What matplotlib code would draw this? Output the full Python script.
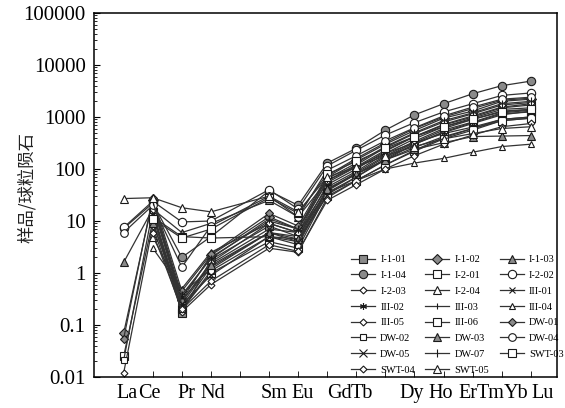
import numpy as np
import matplotlib
matplotlib.use("Agg")
import matplotlib.pyplot as plt
from matplotlib.ticker import FixedLocator, NullFormatter

# ---------------- data ----------------
elements = ["La", "Ce", "Pr", "Nd", "Pm", "Sm", "Eu", "Gd", "Tb", "Dy", "Ho", "Er", "Tm", "Yb", "Lu"]
plot_elements = ["La", "Ce", "Pr", "Nd", "Sm", "Eu", "Gd", "Tb", "Dy", "Ho", "Er", "Tm", "Yb", "Lu"]
label_text = ["La", "Ce", "Pr", "Nd", "Sm", "Eu", "Gd", "Tb", "Dy", "Ho", "Er", "Tm", "Yb", "Lu"]
ytick_vals = [0.01, 0.1, 1, 10, 100, 1000, 10000, 100000]
ytick_labels = ["0.01", "0.1", "1", "10", "100", "1000", "10000", "100000"]
nan = np.nan

# values: La, Ce, Pr, Nd, Sm, Eu, Gd, Tb, Dy, Ho, Er, Tm, Yb, Lu
I_1_01 = [nan, 15, 0.17, 1.8, 8, 5, 50, 100, 220, 420, 700, 1000, 1500, 1700]
I_1_02 = [0.07, 25, 0.30, 2.2, 12, 7, 70, 150, 300, 550, 950, 1300, 2000, 2200]
I_1_03 = [1.6, 17, 6.0, 9, 25, 12, 60, 110, 200, 320, 480, 640, 900, 1000]
I_1_04 = [7.2, 22, 2.0, 5, 38, 20, 130, 250, 560, 1100, 1800, 2800, 4000, 4900]
I_2_01 = [0.025, 10, 0.20, 1.0, 4, 3, 35, 70, 150, 300, 500, 750, 1100, 1300]
I_2_02 = [7.5, 24, 9.6, 10, 40, 17, 115, 230, 450, 780, 1250, 1800, 2600, 2900]
I_2_03 = [0.012, 8, 0.18, 0.6, 3, 2.5, 28, 60, 120, 230, 400, 600, 900, 1000]
I_2_04 = [nan, 5, 0.40, 1.2, 6, 5, 40, 80, 150, 260, 420, 600, 850, 950]
III_01 = [nan, 20, 0.25, 1.5, 7, 6, 45, 90, 200, 380, 650, 950, 1400, 1500]
III_02 = [nan, 18, 0.35, 2.0, 10, 7, 55, 110, 230, 420, 720, 1050, 1550, 1800]
III_03 = [nan, 12, 0.22, 1.3, 6, 4, 40, 85, 180, 340, 600, 900, 1300, 1400]
III_04 = [nan, 3, 0.50, 2.5, 9, 6, 35, 60, 100, 130, 160, 210, 270, 300]
III_05 = [nan, 22, 0.28, 1.6, 9, 6, 60, 120, 260, 480, 800, 1150, 1700, 1900]
III_06 = [nan, 12, 5.0, 4.7, 5, 4.5, 30, 60, 120, 220, 380, 560, 850, 950]
DW_01 = [0.055, 28, 0.45, 2.3, 14, 8, 75, 160, 320, 600, 1000, 1450, 2100, 2300]
DW_02 = [0.021, 16, 0.20, 1.1, 5, 3.5, 38, 80, 170, 320, 560, 800, 1200, 1350]
DW_03 = [nan, 9, 0.30, 1.4, 6, 4.5, 42, 80, 150, 240, 320, 420, 430, 440]
DW_04 = [6.0, 20, 1.3, 8, 30, 12, 95, 180, 350, 620, 1050, 1550, 2200, 2400]
DW_05 = [nan, 14, 0.25, 0.9, 5, 4, 32, 70, 160, 300, 520, 780, 1150, 1250]
DW_07 = [nan, 24, 0.38, 1.9, 11, 7, 65, 130, 270, 500, 850, 1200, 1800, 2000]
SWT_03 = [nan, 11, 4.7, 7, 28, 14, 80, 140, 250, 420, 650, 900, 1250, 1400]
SWT_04 = [nan, 6, 0.20, 0.7, 3.5, 2.6, 25, 50, 100, 180, 300, 450, 650, 750]
SWT_05 = [27, 28, 18, 15, 30, 15, 70, 110, 180, 270, 380, 480, 600, 650]

names = ["I-1-01", "I-1-02", "I-1-03", "I-1-04", "I-2-01", "I-2-02", "I-2-03", "I-2-04",
         "III-01", "III-02", "III-03", "III-04", "III-05", "III-06",
         "DW-01", "DW-02", "DW-03", "DW-04", "DW-05", "DW-07",
         "SWT-03", "SWT-04", "SWT-05"]
series = [I_1_01, I_1_02, I_1_03, I_1_04, I_2_01, I_2_02, I_2_03, I_2_04,
          III_01, III_02, III_03, III_04, III_05, III_06,
          DW_01, DW_02, DW_03, DW_04, DW_05, DW_07,
          SWT_03, SWT_04, SWT_05]

# ---------------- styles ----------------
G = "#8a8a8a"
W = "white"
styles = {
    "I-1-01": dict(marker="s", ms=5.5, mfc=G),
    "I-1-02": dict(marker="D", ms=5, mfc=G),
    "I-1-03": dict(marker="^", ms=6, mfc=G),
    "I-1-04": dict(marker="o", ms=6, mfc=G),
    "I-2-01": dict(marker="s", ms=5.5, mfc=W),
    "I-2-02": dict(marker="o", ms=6, mfc=W),
    "I-2-03": dict(marker="D", ms=3.5, mfc=W),
    "I-2-04": dict(marker="^", ms=5.5, mfc=W),
    "III-01": dict(marker="x", ms=4.5, mfc=W),
    "III-02": dict(marker=(6, 2, 0), ms=5, mfc=W),
    "III-03": dict(marker="|", ms=5, mfc=W),
    "III-04": dict(marker="^", ms=5, mfc=W),
    "III-05": dict(marker="D", ms=3.5, mfc=W),
    "III-06": dict(marker="s", ms=5.5, mfc=W),
    "DW-01": dict(marker="D", ms=4.5, mfc=G),
    "DW-02": dict(marker="s", ms=5, mfc=W),
    "DW-03": dict(marker="^", ms=5.5, mfc=G),
    "DW-04": dict(marker="o", ms=5.5, mfc=W),
    "DW-05": dict(marker="x", ms=5.5, mfc=W),
    "DW-07": dict(marker="|", ms=6, mfc=W),
    "SWT-03": dict(marker="s", ms=5.5, mfc=W),
    "SWT-04": dict(marker="D", ms=3.5, mfc=W),
    "SWT-05": dict(marker="^", ms=6, mfc=W),
}

plt.rcParams["font.family"] = ["Liberation Serif", "DejaVu Serif"]

fig = plt.figure(figsize=(5.65, 4.08), dpi=100)
ax = fig.add_axes([94 / 565, 1 - 377 / 408, (557 - 94) / 565, (377 - 13) / 408])

xpos = [elements.index(e) for e in plot_elements]
handles = {}
for name, vals in zip(names, series):
    st = styles[name]
    h, = ax.plot(xpos, vals, color="#333333", lw=0.9, marker=st["marker"],
                 ms=st["ms"], mfc=st["mfc"], mec="#1a1a1a", mew=0.8, label=name)
    handles[name] = h

ax.set_yscale("log")
ax.set_ylim(0.01, 100000)
ax.set_xlim(-1.02, 14.9)

ax.yaxis.set_major_locator(FixedLocator(ytick_vals))
ax.set_yticklabels(ytick_labels)
ax.yaxis.set_minor_formatter(NullFormatter())
ax.tick_params(axis="y", which="major", direction="in", length=4, labelsize=15, pad=6)
ax.tick_params(axis="y", which="minor", direction="in", length=2)

# element ticks (minor) and label positions (major, no tick mark)
label_pos = [0.1, 0.9, 2.14, 3.07, 5.17, 6.17, 7.42, 8.2, 9.9, 10.9, 11.85, 12.62, 13.5, 14.4]
ax.xaxis.set_minor_locator(FixedLocator(list(range(len(elements)))))
ax.set_xticks(label_pos)
ax.set_xticklabels(label_text)
ax.tick_params(axis="x", which="major", length=0, labelsize=14.5, pad=5)
ax.tick_params(axis="x", which="minor", direction="in", length=4)

for sp in ax.spines.values():
    sp.set_linewidth(1.1)

fig.text(27 / 565, 1 - 188 / 408, "样品/球粒陨石", rotation=90, ha="center", va="center",
         fontsize=12.5, family=["Noto Sans CJK SC", "DejaVu Sans"], color="#222222")

col1 = ["I-1-01", "I-1-04", "I-2-03", "III-02", "III-05", "DW-02", "DW-05", "SWT-04"]
col2 = ["I-1-02", "I-2-01", "I-2-04", "III-03", "III-06", "DW-03", "DW-07", "SWT-05"]
col3 = ["I-1-03", "I-2-02", "III-01", "III-04", "DW-01", "DW-04", "SWT-03"]
order = col1 + col2 + col3
leg = ax.legend([handles[n] for n in order], order, ncol=3, loc="upper left",
                bbox_to_anchor=(0.555, 0.335), frameon=False, fontsize=7.5,
                borderpad=0, borderaxespad=0, handlelength=2.3, handletextpad=0.5,
                columnspacing=1.0, labelspacing=0.62)

fig.savefig("out.png", dpi=100)
